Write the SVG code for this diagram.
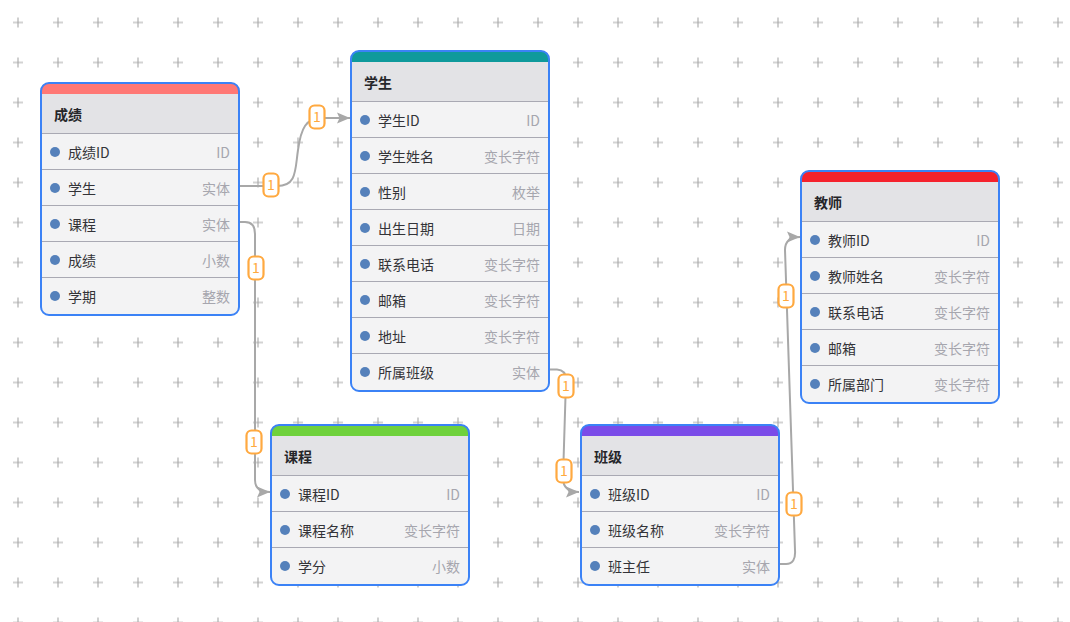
<svg xmlns="http://www.w3.org/2000/svg" width="1070" height="622" viewBox="0 0 1070 622">
<style>
text{font-family:"Noto Sans CJK SC","Open Sans",sans-serif;font-size:14px}
.box{fill:#f3f3f4;stroke:none}
.frame{fill:none;stroke:#3b82f6;stroke-width:2}
.title{fill:#e3e3e6}
.div{stroke:#a9a9b3;stroke-width:1.2;fill:none}
.t{fill:#26262a;font-weight:700}
.n{fill:#333338}
.v{fill:#a6a6ae;text-anchor:end}
.dot{fill:#5581bb}
.link{fill:none;stroke:#a8a8a8;stroke-width:2}
.lb{fill:#fff;stroke:#ffa940;stroke-width:2.2}
.lt{fill:#ffa940;text-anchor:middle}
.cross{stroke:#a8a8a8;stroke-width:1.1}
</style>
<defs>
<marker id="arrow" markerUnits="userSpaceOnUse" markerWidth="15" markerHeight="13" refX="13" refY="6.500" orient="auto"><path d="M0 1L13 6.500L0 12L2.500 6.500Z" fill="#a8a8a8"/></marker>
<pattern id="grid" patternUnits="userSpaceOnUse" x="-2" y="2.500" width="40" height="40"><path class="cross" d="M15 20H25M20 15V25"/></pattern>
</defs>
<rect width="1070" height="622" fill="#fff"/>
<rect width="1070" height="630" fill="url(#grid)"/>

<g id="connectors">
<path class="link" marker-end="url(#arrow)" d="M240 186H277C297 186 295 170 298 150C301 128 306 118 322 118H350"/>
<path class="link" marker-end="url(#arrow)" d="M240 222H245Q255 222 255 234V480Q255 492 270 492"/>
<path class="link" marker-end="url(#arrow)" d="M550 369.500H557Q566 370 566 380L563 478Q563 492 579 492"/>
<path class="link" marker-end="url(#arrow)" d="M780 564H786Q796 564 795 550L785 250Q785 237 800 237"/>
<g id="labels">
<rect class="lb" x="263.500" y="173.500" width="15" height="23" rx="5"/><text class="lt" x="271" y="190">1</text>
<rect class="lb" x="309.500" y="105.500" width="15" height="23" rx="5"/><text class="lt" x="317" y="122">1</text>
<rect class="lb" x="248.500" y="256.500" width="15" height="23" rx="5"/><text class="lt" x="256" y="273">1</text>
<rect class="lb" x="246.500" y="430.500" width="15" height="23" rx="5"/><text class="lt" x="254" y="447">1</text>
<rect class="lb" x="558.500" y="374.500" width="15" height="23" rx="5"/><text class="lt" x="566" y="391">1</text>
<rect class="lb" x="556.500" y="459.500" width="15" height="23" rx="5"/><text class="lt" x="564" y="476">1</text>
<rect class="lb" x="786.500" y="492.500" width="15" height="23" rx="5"/><text class="lt" x="794" y="509">1</text>
<rect class="lb" x="778.500" y="284.500" width="15" height="23" rx="5"/><text class="lt" x="786" y="301">1</text>
</g>
</g>

<g id="node-score" transform="translate(41 83)">
<rect class="box" width="198" height="232" rx="8"/>
<path d="M0 11V8Q0 0 8 0H190Q198 0 198 8V11Z" fill="#ff7875"/>
<rect class="title" y="11" width="198" height="39"/>
<path class="div" d="M0 50.500H198M0 86.500H198M0 122.500H198M0 158.500H198M0 194.500H198"/>
<text class="t" x="13" y="37">成绩</text>
<circle class="dot" cx="14" cy="69" r="5"/><text class="n" x="27" y="75">成绩ID</text><text class="v" x="189" y="75">ID</text>
<circle class="dot" cx="14" cy="105" r="5"/><text class="n" x="27" y="111">学生</text><text class="v" x="189" y="111">实体</text>
<circle class="dot" cx="14" cy="141" r="5"/><text class="n" x="27" y="147">课程</text><text class="v" x="189" y="147">实体</text>
<circle class="dot" cx="14" cy="177" r="5"/><text class="n" x="27" y="183">成绩</text><text class="v" x="189" y="183">小数</text>
<circle class="dot" cx="14" cy="213" r="5"/><text class="n" x="27" y="219">学期</text><text class="v" x="189" y="219">整数</text>
<rect class="frame" width="198" height="232" rx="8"/>
</g>

<g id="node-student" transform="translate(351 51)">
<rect class="box" width="198" height="340" rx="8"/>
<path d="M0 11V8Q0 0 8 0H190Q198 0 198 8V11Z" fill="#0f9a9c"/>
<rect class="title" y="11" width="198" height="39"/>
<path class="div" d="M0 50.500H198M0 86.500H198M0 122.500H198M0 158.500H198M0 194.500H198M0 230.500H198M0 266.500H198M0 302.500H198"/>
<text class="t" x="13" y="37">学生</text>
<circle class="dot" cx="14" cy="69" r="5"/><text class="n" x="27" y="75">学生ID</text><text class="v" x="189" y="75">ID</text>
<circle class="dot" cx="14" cy="105" r="5"/><text class="n" x="27" y="111">学生姓名</text><text class="v" x="189" y="111">变长字符</text>
<circle class="dot" cx="14" cy="141" r="5"/><text class="n" x="27" y="147">性别</text><text class="v" x="189" y="147">枚举</text>
<circle class="dot" cx="14" cy="177" r="5"/><text class="n" x="27" y="183">出生日期</text><text class="v" x="189" y="183">日期</text>
<circle class="dot" cx="14" cy="213" r="5"/><text class="n" x="27" y="219">联系电话</text><text class="v" x="189" y="219">变长字符</text>
<circle class="dot" cx="14" cy="249" r="5"/><text class="n" x="27" y="255">邮箱</text><text class="v" x="189" y="255">变长字符</text>
<circle class="dot" cx="14" cy="285" r="5"/><text class="n" x="27" y="291">地址</text><text class="v" x="189" y="291">变长字符</text>
<circle class="dot" cx="14" cy="321" r="5"/><text class="n" x="27" y="327">所属班级</text><text class="v" x="189" y="327">实体</text>
<rect class="frame" width="198" height="340" rx="8"/>
</g>

<g id="node-course" transform="translate(271 425)">
<rect class="box" width="198" height="160" rx="8"/>
<path d="M0 11V8Q0 0 8 0H190Q198 0 198 8V11Z" fill="#6fd13c"/>
<rect class="title" y="11" width="198" height="39"/>
<path class="div" d="M0 50.500H198M0 86.500H198M0 122.500H198"/>
<text class="t" x="13" y="37">课程</text>
<circle class="dot" cx="14" cy="69" r="5"/><text class="n" x="27" y="75">课程ID</text><text class="v" x="189" y="75">ID</text>
<circle class="dot" cx="14" cy="105" r="5"/><text class="n" x="27" y="111">课程名称</text><text class="v" x="189" y="111">变长字符</text>
<circle class="dot" cx="14" cy="141" r="5"/><text class="n" x="27" y="147">学分</text><text class="v" x="189" y="147">小数</text>
<rect class="frame" width="198" height="160" rx="8"/>
</g>

<g id="node-class" transform="translate(581 425)">
<rect class="box" width="198" height="160" rx="8"/>
<path d="M0 11V8Q0 0 8 0H190Q198 0 198 8V11Z" fill="#7a4be8"/>
<rect class="title" y="11" width="198" height="39"/>
<path class="div" d="M0 50.500H198M0 86.500H198M0 122.500H198"/>
<text class="t" x="13" y="37">班级</text>
<circle class="dot" cx="14" cy="69" r="5"/><text class="n" x="27" y="75">班级ID</text><text class="v" x="189" y="75">ID</text>
<circle class="dot" cx="14" cy="105" r="5"/><text class="n" x="27" y="111">班级名称</text><text class="v" x="189" y="111">变长字符</text>
<circle class="dot" cx="14" cy="141" r="5"/><text class="n" x="27" y="147">班主任</text><text class="v" x="189" y="147">实体</text>
<rect class="frame" width="198" height="160" rx="8"/>
</g>

<g id="node-teacher" transform="translate(801 171)">
<rect class="box" width="198" height="232" rx="8"/>
<path d="M0 11V8Q0 0 8 0H190Q198 0 198 8V11Z" fill="#f5222d"/>
<rect class="title" y="11" width="198" height="39"/>
<path class="div" d="M0 50.500H198M0 86.500H198M0 122.500H198M0 158.500H198M0 194.500H198"/>
<text class="t" x="13" y="37">教师</text>
<circle class="dot" cx="14" cy="69" r="5"/><text class="n" x="27" y="75">教师ID</text><text class="v" x="189" y="75">ID</text>
<circle class="dot" cx="14" cy="105" r="5"/><text class="n" x="27" y="111">教师姓名</text><text class="v" x="189" y="111">变长字符</text>
<circle class="dot" cx="14" cy="141" r="5"/><text class="n" x="27" y="147">联系电话</text><text class="v" x="189" y="147">变长字符</text>
<circle class="dot" cx="14" cy="177" r="5"/><text class="n" x="27" y="183">邮箱</text><text class="v" x="189" y="183">变长字符</text>
<circle class="dot" cx="14" cy="213" r="5"/><text class="n" x="27" y="219">所属部门</text><text class="v" x="189" y="219">变长字符</text>
<rect class="frame" width="198" height="232" rx="8"/>
</g>
</svg>
